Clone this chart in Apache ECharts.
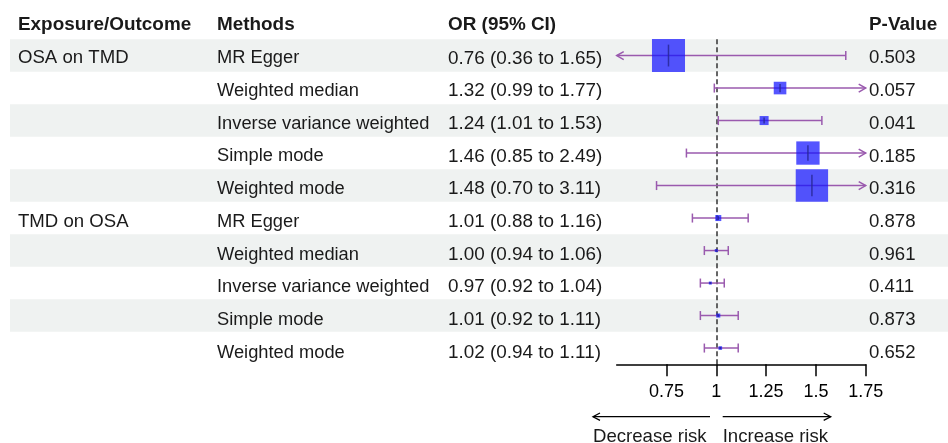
<!DOCTYPE html>
<html>
<head>
<meta charset="utf-8">
<script src="https://cdn.jsdelivr.net/npm/echarts@6/dist/echarts.min.js"></script>
<style>
html,body{margin:0;padding:0;background:#fff;}
#chart{width:948px;height:443px;}
</style>
</head>
<body>
<div id="chart"></div>
<script>
// ---- data ----
var exposures = ['OSA on TMD', '', '', '', '', 'TMD on OSA', '', '', '', ''];
var methods = ['MR Egger', 'Weighted median', 'Inverse variance weighted', 'Simple mode', 'Weighted mode',
               'MR Egger', 'Weighted median', 'Inverse variance weighted', 'Simple mode', 'Weighted mode'];
var orValues = [0.76, 1.32, 1.24, 1.46, 1.48, 1.01, 1.00, 0.97, 1.01, 1.02];
var ciLower = [0.36, 0.99, 1.01, 0.85, 0.70, 0.88, 0.94, 0.92, 0.92, 0.94];
var ciUpper = [1.65, 1.77, 1.53, 2.49, 3.11, 1.16, 1.06, 1.04, 1.11, 1.11];
var pValues = ['0.503', '0.057', '0.041', '0.185', '0.316', '0.878', '0.961', '0.411', '0.873', '0.652'];
var tickValues = [0.75, 1, 1.25, 1.5, 1.75];
var headers = ['Exposure/Outcome', 'Methods', 'OR (95% CI)', 'P-Value'];

// ---- derived ----
var nRows = methods.length;
var orText = orValues.map(function (v, i) {
  return v.toFixed(2) + ' (' + ciLower[i].toFixed(2) + ' to ' + ciUpper[i].toFixed(2) + ')';
});
var forestData = orValues.map(function (v, i) { return [v, ciLower[i], ciUpper[i], i]; });
var shadeData = [];
for (var r = 0; r < nRows; r += 2) shadeData.push([1, r]);

var AX_MIN = 0.5, AX_MAX = 1.75;
var FONT = 'Liberation Sans, Arial, sans-serif';
var FS = 18.6;
var TXT = '#1a1a1a';
var CI_COLOR = '#9a5aae';
var GRID_L = 616.7, GRID_T = 39.3, GRID_W = 249, GRID_H = 325;
var TGRID_T = 42, TGRID_H = 327;

var chart = echarts.init(document.getElementById('chart'), null, {renderer: 'canvas'});

function textAxis(data, pos, offset, fs) {
  return {
    type: 'category', gridIndex: 1, data: data, inverse: true, position: pos, offset: offset,
    axisLine: {show: false}, axisTick: {show: false}, splitLine: {show: false},
    axisLabel: {show: true, margin: 0, align: 'left', color: TXT, fontSize: fs, fontFamily: FONT,
      interval: 0, verticalAlign: 'middle'}
  };
}
function header(x, txt) {
  return {type: 'text', left: x, top: 15, style: {text: txt, font: 'bold 18.9px ' + FONT, fill: TXT}};
}

var option = {
  animation: false,
  backgroundColor: '#ffffff',
  grid: [
    {left: GRID_L, top: GRID_T, width: GRID_W, height: GRID_H, containLabel: false},
    {left: GRID_L, top: TGRID_T, width: GRID_W, height: TGRID_H, containLabel: false}
  ],
  xAxis: [{
    type: 'value', gridIndex: 0, min: AX_MIN, max: AX_MAX, interval: 0.25, position: 'bottom',
    splitLine: {show: false},
    axisLine: {show: true, onZero: false, lineStyle: {color: '#000', width: 1.5}},
    axisTick: {show: true, length: 12, customValues: tickValues, lineStyle: {color: '#000', width: 1.5}},
    axisLabel: {show: true, customValues: tickValues, margin: 19, color: '#000', fontSize: 18, fontFamily: FONT,
      formatter: function (v) { return String(v); }}
  }, {
    type: 'value', gridIndex: 1, min: AX_MIN, max: AX_MAX, show: false
  }],
  yAxis: [
    {type: 'value', gridIndex: 0, min: -0.5, max: nRows - 0.5, inverse: true, show: false, splitLine: {show: false}},
    textAxis(exposures, 'left', GRID_L - 18, 18.6),
    textAxis(methods, 'left', GRID_L - 217, 18.3),
    textAxis(orText, 'left', GRID_L - 448, 18.9),
    textAxis(pValues, 'right', 869 - (GRID_L + GRID_W), 18.6)
  ],
  graphic: {elements: [
    header(18, headers[0]),
    header(217, headers[1]),
    header(448, headers[2]),
    header(869, headers[3]),
    {type: 'polyline', shape: {points: [[710, 416.7], [593, 416.7]]}, style: {stroke: '#000', lineWidth: 1.3, fill: null}},
    {type: 'polyline', shape: {points: [[600, 413], [593, 416.7], [600, 420.4]]}, style: {stroke: '#000', lineWidth: 1.3, fill: null}},
    {type: 'polyline', shape: {points: [[722.7, 416.7], [830.7, 416.7]]}, style: {stroke: '#000', lineWidth: 1.3, fill: null}},
    {type: 'polyline', shape: {points: [[823.7, 413], [830.7, 416.7], [823.7, 420.4]]}, style: {stroke: '#000', lineWidth: 1.3, fill: null}},
    {type: 'text', left: 593, top: 427, style: {text: 'Decrease risk', font: FS + 'px ' + FONT, fill: TXT}},
    {type: 'text', left: 722.7, top: 427, style: {text: 'Increase risk', font: FS + 'px ' + FONT, fill: TXT}}
  ]},
  series: [
    {
      type: 'custom', name: 'shade', clip: false, z: 0, silent: true, xAxisIndex: 0, yAxisIndex: 0,
      data: shadeData, encode: {x: 0, y: 1},
      renderItem: function (params, api) {
        var y0 = api.coord([1, api.value(1) - 0.5])[1];
        var y1 = api.coord([1, api.value(1) + 0.5])[1];
        return {type: 'rect', shape: {x: 10, y: y0, width: 938, height: y1 - y0},
          style: {fill: '#eff2f1'}};
      }
    },
    {
      type: 'custom', name: 'forest', clip: false, z: 5, silent: true, xAxisIndex: 0, yAxisIndex: 0,
      data: forestData, encode: {x: 0, y: 3},
      renderItem: function (params, api) {
        var est = api.value(0), lo = api.value(1), hi = api.value(2), row = api.value(3);
        var yc = api.coord([1, row])[1];
        var loC = Math.max(lo, AX_MIN), hiC = Math.min(hi, AX_MAX);
        var xLo = api.coord([loC, row])[0], xHi = api.coord([hiC, row])[0], xE = api.coord([est, row])[0];
        var ls = {stroke: CI_COLOR, lineWidth: 1.5, fill: null};
        var ch = [];
        ch.push({type: 'line', shape: {x1: xLo, y1: yc, x2: xHi, y2: yc}, style: ls});
        if (lo < AX_MIN) {
          ch.push({type: 'polyline', shape: {points: [[xLo + 7, yc - 4], [xLo, yc], [xLo + 7, yc + 4]]}, style: ls});
        } else {
          ch.push({type: 'line', shape: {x1: xLo, y1: yc - 4.5, x2: xLo, y2: yc + 4.5}, style: ls});
        }
        if (hi > AX_MAX) {
          ch.push({type: 'polyline', shape: {points: [[xHi - 7, yc - 4], [xHi, yc], [xHi - 7, yc + 4]]}, style: ls});
        } else {
          ch.push({type: 'line', shape: {x1: xHi, y1: yc - 4.5, x2: xHi, y2: yc + 4.5}, style: ls});
        }
        var s = Math.max(3, 21.7 * Math.log(hi / lo));
        ch.push({type: 'rect', shape: {x: xE - s / 2, y: yc - s / 2, width: s, height: s},
          style: {fill: 'rgba(20,20,255,0.72)'}});
        ch.push({type: 'line', shape: {x1: xE, y1: yc - s * 0.33, x2: xE, y2: yc + s * 0.33},
          style: {stroke: 'rgba(40,40,150,0.85)', lineWidth: 1.5}});
        return {type: 'group', children: ch};
      },
      markLine: {
        silent: true, symbol: ['none', 'none'], label: {show: false},
        lineStyle: {color: '#333', type: [5, 3], width: 1.5},
        data: [{xAxis: 1}]
      }
    }
  ]
};
chart.setOption(option);
</script>
</body>
</html>
